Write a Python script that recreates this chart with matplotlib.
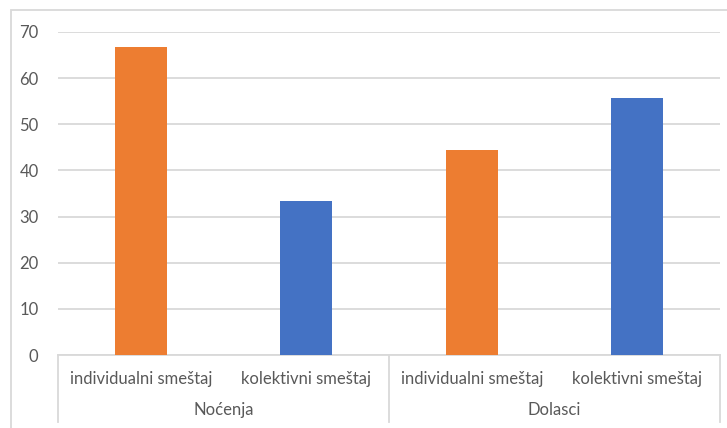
import matplotlib.pyplot as plt
from matplotlib.patches import Rectangle

# Data
groups = ['Noćenja', 'Dolasci']
categories = ['individualni smeštaj', 'kolektivni smeštaj',
              'individualni smeštaj', 'kolektivni smeštaj']
values = [66.7, 33.3, 44.4, 55.6]
colors = ['#ED7D31', '#4472C4', '#ED7D31', '#4472C4']
yticks = [0, 10, 20, 30, 40, 50, 60, 70]

plt.rcParams['font.family'] = ['Lato', 'DejaVu Sans']
text_color = '#595959'
line_color = '#D9D9D9'

fig = plt.figure(figsize=(7.27, 4.28), dpi=100)
ax = fig.add_axes([58 / 727, 73 / 428, 662 / 727, 323 / 428])

x = list(range(len(values)))
ax.bar(x, values, width=0.315, color=colors, zorder=3)

ax.set_xlim(-0.5, len(values) - 0.5)
ax.set_ylim(0, 70)
ax.set_yticks(yticks)
ax.tick_params(axis='y', length=0, pad=14, labelsize=12, labelcolor=text_color)
ax.set_xticks([])
ax.grid(axis='y', color=line_color, linewidth=1.3, zorder=0)
for side in ['top', 'right', 'left']:
    ax.spines[side].set_visible(False)
ax.spines['bottom'].set_color(line_color)
ax.spines['bottom'].set_linewidth(1.3)

# two-level category axis
trans = ax.get_xaxis_transform()
for xs in [-0.5, 1.5, 3.5]:
    ax.plot([xs, xs], [0, -0.207], transform=trans, color=line_color,
            linewidth=1.3, clip_on=False)
for xi, lab in zip(x, categories):
    ax.text(xi, -0.074, lab, transform=trans, ha='center', va='center',
            fontsize=12, color=text_color)
for gi, g in enumerate(groups):
    ax.text(gi * 2 + 0.5, -0.17, g, transform=trans, ha='center',
            va='center', fontsize=12, color=text_color)

# chart frame
fig.patches.append(Rectangle((11 / 727, -0.1), 1.2, 1 - 10 / 428 + 0.1,
                             transform=fig.transFigure, fill=False,
                             edgecolor=line_color, linewidth=1.3))

fig.savefig('out.png', dpi=100)
